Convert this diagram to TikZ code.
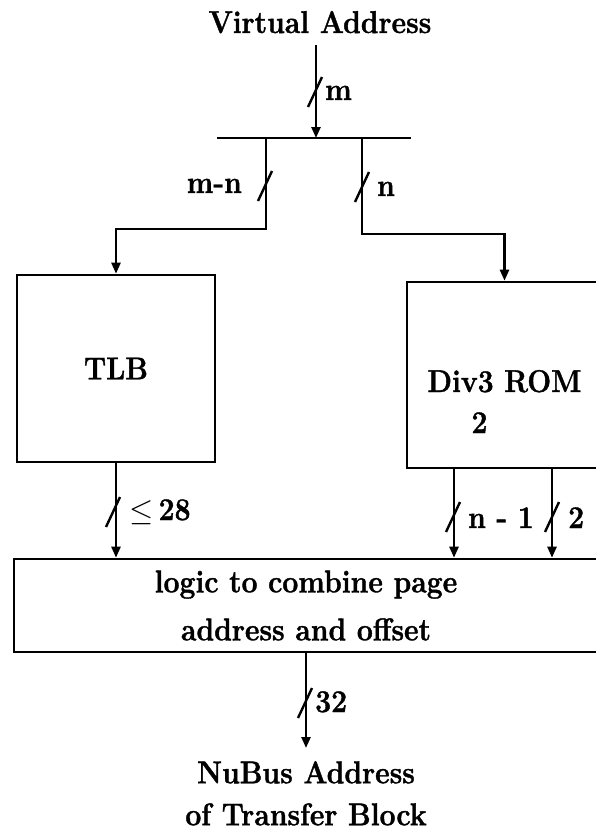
\documentclass[tikz,border=0pt]{standalone}
\usepackage{fontspec}
\setmainfont{Latin Modern Roman}[FakeStretch=0.90,BoldFeatures={FakeBold=1.2}]
\usetikzlibrary{arrows.meta}
\begin{document}
\begin{tikzpicture}[x=1pt,y=-1pt,
  wire/.style={line width=2.4pt},
  arrow/.style={wire,-{Triangle[length=11pt,width=9pt]}},
  box/.style={draw,line width=2.6pt,inner sep=0pt},
  txt/.style={font=\fontsize{31.5}{48}\selectfont\bfseries,inner sep=0pt,align=center},
  lbl/.style={font=\fontsize{31.5}{36}\selectfont\bfseries,inner sep=0pt},
  busslash/.pic={\draw[line width=2.4pt] (-7,15) -- (7,-15);}]
\useasboundingbox (0,0) rectangle (595,835);

% input and the splitting bus
\node[txt,anchor=base] (va) at (320,33) {Virtual Address};
\coordinate (busL) at (217,138);
\coordinate (busR) at (411,138);
\coordinate (busin) at (316,138);
\coordinate (tapL) at (266,138);
\coordinate (tapR) at (362,138);
\draw[wire] (busL) -- (busR);
\draw[arrow,shorten <=12pt] (va.south -| busin) -- (busin);
\pic at (315,92) {busslash};
\node[lbl,anchor=base west] (lm) at (325,100) {m};

% blocks
\node[box,minimum width=198pt,minimum height=187pt,txt] (tlb) at (116,368.5) {TLB};
\node[box,minimum width=195pt,minimum height=186pt] (div) at (504.5,375) {};
\node[txt,anchor=base] (divname) at (504.5,392) {Div3 ROM};
\node[txt,anchor=base] (divtwo) at (479.5,433) {2};
\node[box,minimum width=584pt,minimum height=93pt,txt] (logic) at (306,605.5)
  {logic to combine page\\address and offset};

% bus branches to the TLB and the ROM
\draw[arrow] (tapL) -- ++(0,91) -| (tlb.north);
\pic at (265,186) {busslash};
\node[lbl,anchor=base east] (lmn) at (242,193) {m-n};
\draw[arrow] (tapR) -- ++(0,96) -| (div.north);
\pic at (362,187) {busslash};
\node[lbl,anchor=base west] (ln) at (377,196) {n};

% into the combining logic
\draw[arrow] (tlb.south) -- (tlb.south |- logic.north);
\pic at (113,512) {busslash};
\node[lbl,anchor=base west] (l28) at (129,520) {\scalebox{1.25}{$\leq$}\,28};
\coordinate (d1) at ([xshift=-50.5pt]div.south);
\coordinate (d2) at ([xshift=47.5pt]div.south);
\draw[arrow] (d1) -- (d1 |- logic.north);
\draw[arrow] (d2) -- (d2 |- logic.north);
\pic at (453,517) {busslash};
\pic at (552,517) {busslash};
\node[lbl,anchor=base west] (lnm1) at (468,528) {n - 1};
\node[lbl,anchor=base west] (l2) at (568,528) {2};

% output
\node[txt,anchor=north,font=\fontsize{31.5}{42}\selectfont\bfseries] (out) at (306,761)
  {NuBus Address\\of Transfer Block};
\draw[arrow] (logic.south) -- ([yshift=13pt]out.north);
\pic at (305,703) {busslash};
\node[lbl,anchor=base west] (l32) at (315,712) {32};
\end{tikzpicture}
\end{document}
